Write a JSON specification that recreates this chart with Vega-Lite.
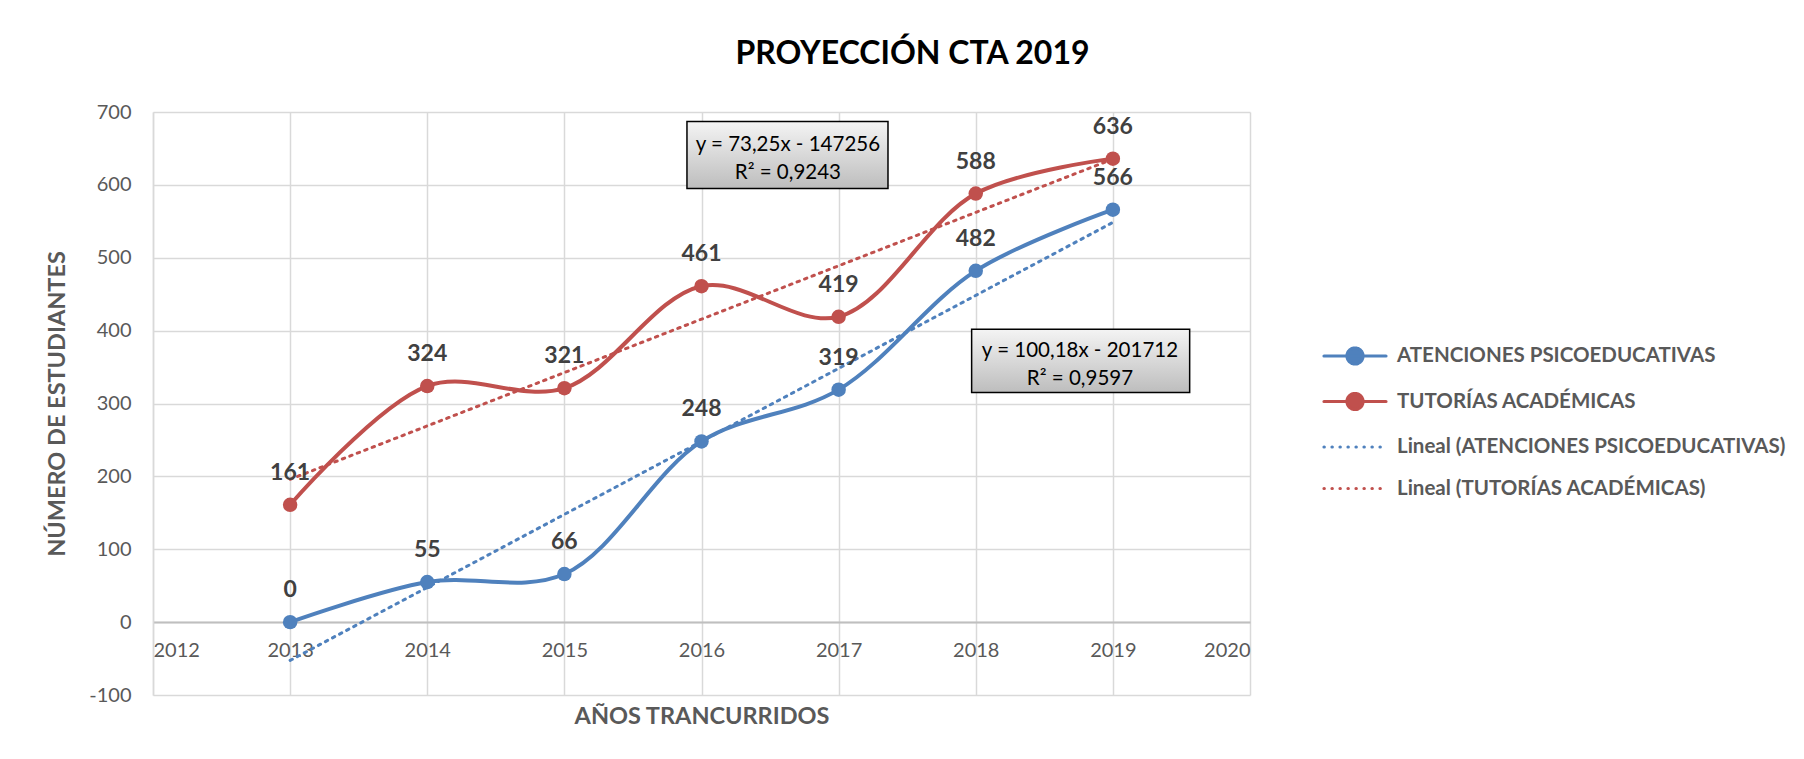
{
  "$schema": "https://vega.github.io/schema/vega-lite/v6.json",
  "autosize": {"type": "none"},
  "width": 1097,
  "height": 583,
  "padding": {"left": 153, "top": 112, "right": 554, "bottom": 64},
  "background": "white",
  "title": {
    "text": "PROYECCIÓN CTA 2019",
    "anchor": "middle",
    "frame": "group",
    "dx": 211,
    "offset": 6,
    "baseline": "alphabetic",
    "font": "Lato",
    "fontSize": 32,
    "fontWeight": "bold",
    "color": "#000000"
  },
  "datasets": {
    "serie": [
      {"anio": 2013, "valor": 0, "serie": "ATENCIONES PSICOEDUCATIVAS", "tendencia": "Lineal (ATENCIONES PSICOEDUCATIVAS)"},
      {"anio": 2014, "valor": 55, "serie": "ATENCIONES PSICOEDUCATIVAS", "tendencia": "Lineal (ATENCIONES PSICOEDUCATIVAS)"},
      {"anio": 2015, "valor": 66, "serie": "ATENCIONES PSICOEDUCATIVAS", "tendencia": "Lineal (ATENCIONES PSICOEDUCATIVAS)"},
      {"anio": 2016, "valor": 248, "serie": "ATENCIONES PSICOEDUCATIVAS", "tendencia": "Lineal (ATENCIONES PSICOEDUCATIVAS)"},
      {"anio": 2017, "valor": 319, "serie": "ATENCIONES PSICOEDUCATIVAS", "tendencia": "Lineal (ATENCIONES PSICOEDUCATIVAS)"},
      {"anio": 2018, "valor": 482, "serie": "ATENCIONES PSICOEDUCATIVAS", "tendencia": "Lineal (ATENCIONES PSICOEDUCATIVAS)"},
      {"anio": 2019, "valor": 566, "serie": "ATENCIONES PSICOEDUCATIVAS", "tendencia": "Lineal (ATENCIONES PSICOEDUCATIVAS)"},
      {"anio": 2013, "valor": 161, "serie": "TUTORÍAS ACADÉMICAS", "tendencia": "Lineal (TUTORÍAS ACADÉMICAS)"},
      {"anio": 2014, "valor": 324, "serie": "TUTORÍAS ACADÉMICAS", "tendencia": "Lineal (TUTORÍAS ACADÉMICAS)"},
      {"anio": 2015, "valor": 321, "serie": "TUTORÍAS ACADÉMICAS", "tendencia": "Lineal (TUTORÍAS ACADÉMICAS)"},
      {"anio": 2016, "valor": 461, "serie": "TUTORÍAS ACADÉMICAS", "tendencia": "Lineal (TUTORÍAS ACADÉMICAS)"},
      {"anio": 2017, "valor": 419, "serie": "TUTORÍAS ACADÉMICAS", "tendencia": "Lineal (TUTORÍAS ACADÉMICAS)"},
      {"anio": 2018, "valor": 588, "serie": "TUTORÍAS ACADÉMICAS", "tendencia": "Lineal (TUTORÍAS ACADÉMICAS)"},
      {"anio": 2019, "valor": 636, "serie": "TUTORÍAS ACADÉMICAS", "tendencia": "Lineal (TUTORÍAS ACADÉMICAS)"}
    ],
    "ecuaciones": [
      {"x1": 2015.894, "x2": 2017.36, "y1": 687, "y2": 595, "cx": 2016.63, "cy": 655, "texto": "y = 73,25x - 147256\nR² = 0,9243"},
      {"x1": 2017.97, "x2": 2019.56, "y1": 402, "y2": 315, "cx": 2018.76, "cy": 372, "texto": "y = 100,18x - 201712\nR² = 0,9597"}
    ]
  },
  "config": {
    "font": "Lato",
    "view": {"stroke": null},
    "axis": {
      "gridColor": "#d9d9d9",
      "gridWidth": 1.5,
      "ticks": false,
      "labelFont": "Lato",
      "labelFontSize": 20,
      "labelColor": "#595959",
      "titleFont": "Lato",
      "titleFontSize": 23.5,
      "titleFontWeight": "bold",
      "titleColor": "#595959"
    }
  },
  "layer": [
    {
      "data": {"name": "serie"},
      "transform": [
        {"regression": "valor", "on": "anio", "groupby": ["tendencia"]}
      ],
      "mark": {"type": "line", "strokeWidth": 3, "strokeDash": [2.5, 5.5], "strokeCap": "round"},
      "encoding": {
        "x": {
          "field": "anio",
          "type": "quantitative",
          "scale": {"domain": [2012, 2020], "nice": false, "zero": false},
          "axis": {
            "values": [2012, 2013, 2014, 2015, 2016, 2017, 2018, 2019, 2020],
            "format": "d",
            "offset": -72.9,
            "domainColor": "#bfbfbf",
            "domainWidth": 2,
            "labelPadding": 18,
            "title": "AÑOS TRANCURRIDOS",
            "titleY": 94,
            "titleBaseline": "middle"
          }
        },
        "y": {
          "field": "valor",
          "type": "quantitative",
          "scale": {"domain": [-100, 700], "nice": false, "zero": false},
          "axis": {
            "values": [-100, 0, 100, 200, 300, 400, 500, 600, 700],
            "labelExpr": "'' + datum.value",
            "domain": true,
            "domainColor": "#d9d9d9",
            "domainWidth": 1.5,
            "labelPadding": 22,
            "title": "NÚMERO DE ESTUDIANTES",
            "titleX": -96,
            "titleBaseline": "middle"
          }
        },
        "color": {
          "field": "tendencia",
          "type": "nominal",
          "scale": {
            "domain": ["ATENCIONES PSICOEDUCATIVAS", "TUTORÍAS ACADÉMICAS", "Lineal (ATENCIONES PSICOEDUCATIVAS)", "Lineal (TUTORÍAS ACADÉMICAS)"],
            "range": ["#4f81bd", "#c0504d", "#4f81bd", "#c0504d"]
          },
          "legend": {
            "orient": "none",
            "legendX": 1167,
            "legendY": 222,
            "title": null,
            "symbolSize": 1600,
            "symbolStrokeWidth": 3,
            "symbolOffset": 13,
            "labelOffset": 20,
            "labelFont": "Lato",
            "labelFontSize": 20.5,
            "labelFontWeight": "bold",
            "labelColor": "#595959",
            "labelLimit": 600,
            "rowPadding": 8.5,
            "encode": {
              "symbols": {
                "update": {
                  "shape": {"signal": "datum.index < 2 ? 'M-1.55,0H1.55M-0.4,0A0.4,0.4 0 1 1 0.4,0A0.4,0.4 0 1 1 -0.4,0Z' : 'M-1.55,0H1.55'"},
                  "strokeDash": {"signal": "datum.index < 2 ? [1,0] : [0.3,7.7]"},
                  "strokeCap": {"value": "round"},
                  "fill": {"signal": "datum.index == 0 ? '#4f81bd' : datum.index == 1 ? '#c0504d' : 'transparent'"},
                  "stroke": {"signal": "datum.index % 2 == 0 ? '#4f81bd' : '#c0504d'"},
                  "strokeWidth": {"value": 3.2},
                  "opacity": {"value": 1}
                }
              }
            }
          }
        }
      }
    },
    {
      "data": {"name": "serie"},
      "mark": {"type": "line", "strokeWidth": 4, "interpolate": "catmull-rom"},
      "encoding": {
        "x": {"field": "anio", "type": "quantitative"},
        "y": {"field": "valor", "type": "quantitative"},
        "color": {"field": "serie", "type": "nominal"}
      }
    },
    {
      "data": {"name": "serie"},
      "mark": {"type": "point", "filled": true, "size": 210, "opacity": 1},
      "encoding": {
        "x": {"field": "anio", "type": "quantitative"},
        "y": {"field": "valor", "type": "quantitative"},
        "color": {"field": "serie", "type": "nominal"}
      }
    },
    {
      "data": {"name": "serie"},
      "mark": {"type": "text", "dy": -32, "font": "Lato", "fontSize": 23, "fontWeight": "bold", "color": "#404040", "baseline": "middle"},
      "encoding": {
        "x": {"field": "anio", "type": "quantitative"},
        "y": {"field": "valor", "type": "quantitative"},
        "text": {"field": "valor", "type": "quantitative", "format": "d"}
      }
    },
    {
      "data": {"name": "ecuaciones"},
      "mark": {
        "type": "rect",
        "stroke": "#000000",
        "strokeWidth": 1.5,
        "fill": {
          "gradient": "linear",
          "x1": 0, "y1": 0, "x2": 0, "y2": 1,
          "stops": [{"offset": 0, "color": "#f4f4f4"}, {"offset": 1, "color": "#bdbdbd"}]
        }
      },
      "encoding": {
        "x": {"field": "x1", "type": "quantitative"},
        "x2": {"field": "x2"},
        "y": {"field": "y1", "type": "quantitative"},
        "y2": {"field": "y2"}
      }
    },
    {
      "data": {"name": "ecuaciones"},
      "mark": {"type": "text", "font": "Lato", "fontSize": 20.5, "color": "#000000", "lineBreak": "\n", "lineHeight": 28, "baseline": "middle", "align": "center"},
      "encoding": {
        "x": {"field": "cx", "type": "quantitative"},
        "y": {"field": "cy", "type": "quantitative"},
        "text": {"field": "texto", "type": "nominal"}
      }
    }
  ]
}
